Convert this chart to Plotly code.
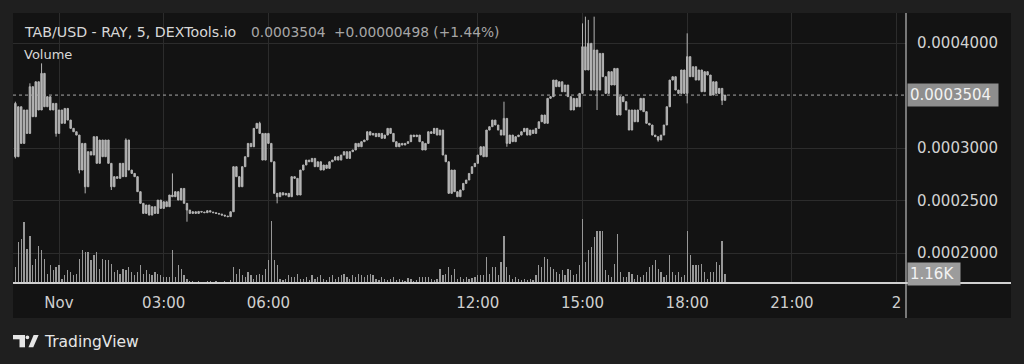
import pandas as pd
import plotly.graph_objects as go

# ---------------- data (prices in units of 1e-7 USD) ----------------
FIRST_OPEN = 3425
CLOSES = [
    2917, 3393, 3044, 3362, 3139, 3584, 3298, 3631, 3362, 3711,
    3393, 3489, 3362, 3425, 3139, 3362, 3235, 3377, 3266, 3187,
    3155, 3123, 2790, 3044, 2631, 2965, 2933, 3108, 2854, 3076,
    2917, 3076, 2854, 2631, 2727, 2711, 2854, 2727, 3076, 2790,
    2758, 2727, 2584, 2473, 2377, 2457, 2361, 2441, 2377, 2504,
    2425, 2488, 2441, 2552, 2536, 2584, 2504, 2615, 2473, 2409,
    2377, 2393, 2377, 2396, 2390, 2384, 2403, 2390, 2384, 2377,
    2371, 2361, 2352, 2346, 2393, 2822, 2727, 2631, 2822, 2917,
    3044, 3012, 3187, 3235, 3139, 2885, 3139, 3044, 2869, 2568,
    2536, 2574, 2552, 2568, 2536, 2727, 2711, 2552, 2790, 2838,
    2885, 2869, 2901, 2822, 2869, 2790, 2838, 2806, 2869, 2885,
    2917, 2885, 2933, 2965, 2901, 2965, 2981, 3044, 3012, 3060,
    3076, 3155, 3123, 3139, 3108, 3139, 3092, 3123, 3187, 3139,
    3060, 3012, 3044, 3028, 3044, 3060, 3123, 3108, 3123, 3060,
    2981, 3044, 3155, 3139, 3187, 3123, 3171, 2933, 2869, 2568,
    2790, 2584, 2536, 2600, 2663, 2695, 2758, 2822, 2854, 2933,
    3012, 2917, 3171, 3203, 3266, 3219, 3171, 3123, 3282, 3044,
    3123, 3060, 3108, 3123, 3155, 3187, 3123, 3171, 3139, 3187,
    3250, 3314, 3235, 3473, 3489, 3647, 3584, 3631, 3536, 3600,
    3489, 3362, 3473, 3393, 3520, 3965, 3743, 3997, 3552, 3933,
    3552, 3901, 3679, 3520, 3727, 3600, 3758, 3314, 3489, 3441,
    3362, 3171, 3362, 3250, 3362, 3473, 3346, 3235, 3219, 3123,
    3108, 3076, 3123, 3219, 3393, 3647, 3679, 3552, 3520, 3743,
    3520, 3870, 3679, 3774, 3647, 3743, 3536, 3727, 3695, 3504,
    3631, 3520, 3568, 3454, 3504,
]
# visible wick extremes (candle index -> price)
WICK_HIGHS = {0: 3441, 5: 3616, 9: 3806, 38: 3092, 54: 2758, 84: 3250,
              168: 3441, 195: 4187, 196: 4251, 197: 4220, 199: 4251, 231: 4092}
WICK_LOWS = {0: 2901, 14: 3108, 22: 2758, 24: 2568, 33: 2600, 59: 2298,
             90: 2473, 169: 3012, 200: 3362, 221: 3060, 231: 3425, 243: 3409}
VOLUMES = [
    2065, 5291, 5722, 7873, 4431, 6152, 2280, 3140, 4861, 4216,
    3140, 1204, 2280, 1635, 2065, 2280, 559, 989, 1635, 1420,
    989, 1204, 3140, 4216, 4001, 4001, 2925, 3571, 4001, 1850,
    3140, 2925, 2925, 2495, 1420, 1635, 1204, 1850, 1635, 2065,
    1420, 989, 1420, 2280, 1204, 1635, 1204, 989, 1420, 1204,
    989, 774, 774, 774, 4216, 774, 2280, 1850, 989, 559,
    287, 215, 143, 239, 191, 167, 287, 215, 143, 263,
    191, 167, 239, 191, 335, 2065, 1204, 1850, 989, 774,
    1420, 989, 559, 989, 1204, 989, 1850, 2925, 8088, 2925,
    2280, 559, 344, 559, 989, 774, 774, 1204, 559, 559,
    774, 344, 989, 559, 774, 989, 559, 344, 774, 989,
    559, 774, 989, 1204, 774, 559, 989, 774, 1204, 989,
    774, 989, 1204, 989, 559, 344, 774, 559, 344, 559,
    774, 344, 559, 344, 215, 645, 559, 215, 344, 774,
    774, 774, 774, 559, 344, 559, 1850, 989, 1204, 2065,
    989, 1850, 559, 774, 559, 774, 559, 645, 774, 989,
    989, 989, 3356, 1204, 2065, 2065, 989, 2710, 6152, 2065,
    989, 559, 774, 559, 344, 559, 344, 559, 344, 989,
    2280, 2065, 3356, 3140, 2065, 1850, 1420, 1204, 1635, 989,
    1850, 1635, 989, 1204, 2280, 8303, 2710, 4216, 4646, 5937,
    6797, 6797, 6797, 1635, 989, 774, 2495, 6367, 1420, 774,
    774, 1420, 1204, 559, 989, 774, 989, 1420, 2065, 2280,
    2925, 1850, 1420, 774, 989, 3571, 1420, 989, 1420, 774,
    989, 6797, 3571, 2280, 2280, 2280, 2495, 1420, 559, 1420,
    1420, 2710, 2280, 5500, 1160,
]
Y_TICKS = [0.0002, 0.00025, 0.0003, 0.0004]
Y_TICKTEXT = ["0.0002000", "0.0002500", "0.0003000", "0.0004000"]
X_TICKS = ["2023-11-01 00:00", "2023-11-01 03:00", "2023-11-01 06:00",
           "2023-11-01 12:00", "2023-11-01 15:00", "2023-11-01 18:00",
           "2023-11-01 21:00", "2023-11-02 00:00"]
X_TICKTEXT = ["Nov", "03:00", "06:00", "12:00", "15:00", "18:00", "21:00", "2"]
START = "2023-10-31 22:45"
LAST_PRICE = 0.0003504
LAST_VOLUME_LABEL = "1.16K"

# ---------------- build ----------------
UNIT = 1e-7
times = pd.date_range(START, periods=len(CLOSES), freq="5min")
opens = [FIRST_OPEN] + CLOSES[:-1]
highs = [max(o, c, WICK_HIGHS.get(i, 0)) * UNIT for i, (o, c) in enumerate(zip(opens, CLOSES))]
lows = [min(o, c, WICK_LOWS.get(i, 10 ** 9)) * UNIT for i, (o, c) in enumerate(zip(opens, CLOSES))]
o_vals = [v * UNIT for v in opens]
c_vals = [v * UNIT for v in CLOSES]

W, H = 1024, 364
L, R, T, B = 13, 906, 13, 283  # plot area in pixels
PW, PH = R - L, B - T


def px(x):
    return (x - L) / PW


def py(y):
    return (B - y) / PH


CANDLE = "#b4b4b4"
fig = go.Figure()
fig.add_trace(go.Bar(x=times, y=VOLUMES, yaxis="y2", width=125000,
                     marker=dict(color="#979797", line=dict(width=0)),
                     hoverinfo="skip"))
fig.add_trace(go.Candlestick(
    x=times, open=o_vals, high=highs, low=lows, close=c_vals,
    increasing=dict(line=dict(color=CANDLE, width=1), fillcolor=CANDLE),
    decreasing=dict(line=dict(color=CANDLE, width=1), fillcolor=CANDLE),
    whiskerwidth=0))

hour_px = 34.9
t0 = pd.Timestamp("2023-11-01 00:00")
x_left = t0 - pd.Timedelta(hours=(59 - L) / hour_px)
x_right = t0 + pd.Timedelta(hours=(R - 59) / hour_px)
price_per_px = 0.0001 / 105.0
y_top = 0.0004 + (43 - T) * price_per_px
y_bot = 0.0003 - (B - 148) * price_per_px

FONT = "DejaVu Sans"
fig.update_layout(
    width=W, height=H, showlegend=False,
    margin=dict(l=L, r=W - R, t=T, b=H - B, pad=0),
    paper_bgcolor="#1f1f1f", plot_bgcolor="#131313",
    font=dict(family=FONT, color="#cfcfcf", size=14),
    xaxis=dict(type="date", range=[x_left, x_right], tickvals=X_TICKS, ticktext=X_TICKTEXT,
               showgrid=True, gridcolor="#2c2c2c", gridwidth=1, zeroline=False,
               showline=False, ticks="", ticklabelstandoff=9,
               tickfont=dict(size=15, color="#cfcfcf"),
               rangeslider=dict(visible=False), fixedrange=True),
    yaxis=dict(side="right", range=[y_bot, y_top], tickvals=Y_TICKS, ticktext=Y_TICKTEXT,
               showgrid=True, gridcolor="#2c2c2c", zeroline=False, showline=False,
               ticks="", ticklabelstandoff=10, tickfont=dict(size=15, color="#d2d2d2"),
               fixedrange=True),
    yaxis2=dict(overlaying="y", range=[0, 35000], visible=False, fixedrange=True),
    bargap=0,
)

shapes = [
    # panel strips outside plot area
    dict(type="rect", xref="paper", yref="paper", x0=px(R), x1=px(1011), y0=py(318), y1=py(T),
         fillcolor="#131313", line=dict(width=0), layer="below"),
    dict(type="rect", xref="paper", yref="paper", x0=px(L), x1=px(R), y0=py(318), y1=py(B),
         fillcolor="#131313", line=dict(width=0), layer="below"),
    # price line
    dict(type="line", xref="paper", yref="y", x0=0, x1=1, y0=LAST_PRICE, y1=LAST_PRICE,
         line=dict(color="#a8a8a8", width=1, dash="dot")),
    # axis separators
    dict(type="line", xref="paper", yref="paper", x0=px(R), x1=px(R), y0=py(318), y1=py(T),
         line=dict(color="#bdbdbd", width=1.2)),
    dict(type="line", xref="paper", yref="paper", x0=px(L), x1=px(1011), y0=py(B), y1=py(B),
         line=dict(color="#d0d0d0", width=1.8)),
    # TradingView logo
    dict(type="rect", xref="paper", yref="paper", x0=px(13), x1=px(25), y0=py(339.3), y1=py(335),
         fillcolor="#e6e6e6", line=dict(width=0)),
    dict(type="rect", xref="paper", yref="paper", x0=px(19.5), x1=px(25), y0=py(347.3), y1=py(335),
         fillcolor="#e6e6e6", line=dict(width=0)),
    dict(type="circle", xref="paper", yref="paper", x0=px(25.5), x1=px(29.3), y0=py(339.2), y1=py(335.4),
         fillcolor="#e6e6e6", line=dict(width=0)),
    dict(type="path", xref="paper", yref="paper",
         path=f"M {px(28.5)} {py(347.3)} L {px(33.3)} {py(347.3)} L {px(38.6)} {py(335)} L {px(33.6)} {py(335)} Z",
         fillcolor="#e6e6e6", line=dict(width=0)),
]
fig.update_layout(shapes=shapes)

ann = [
    dict(x=px(22), y=py(32), text="TAB/USD - RAY, 5, DEXTools.io", font=dict(size=14.2, color="#d8d8d8")),
    dict(x=px(249), y=py(32), text="0.0003504", font=dict(size=13.8, color="#a6a6a6")),
    dict(x=px(332), y=py(32), text="+0.00000498 (+1.44%)", font=dict(size=13.8, color="#a6a6a6")),
    dict(x=px(22), y=py(54), text="Volume", font=dict(size=13, color="#d8d8d8")),
    dict(x=px(42), y=py(342), text="TradingView", font=dict(size=15.5, color="#e6e6e6")),
]
for a in ann:
    fig.add_annotation(xref="paper", yref="paper", xanchor="left", yanchor="middle",
                       showarrow=False, **a)

fig.add_annotation(xref="paper", yref="y", x=px(R + 1), y=LAST_PRICE, xanchor="left", yanchor="middle",
                   text="0.0003504&nbsp;", showarrow=False, bgcolor="#8e8e8e", borderpad=2,
                   font=dict(size=15, color="#f2f2f2"))
fig.add_annotation(xref="paper", yref="y2", x=px(R + 1), y=VOLUMES[-1], xanchor="left", yanchor="middle",
                   text=LAST_VOLUME_LABEL + "&nbsp;", showarrow=False, bgcolor="#9c9c9c", borderpad=2,
                   font=dict(size=15, color="#f2f2f2"))

fig.write_html("out.html", config={"displayModeBar": False, "staticPlot": True},
               post_script="document.body.style.margin='0';document.body.style.overflow='hidden';")
